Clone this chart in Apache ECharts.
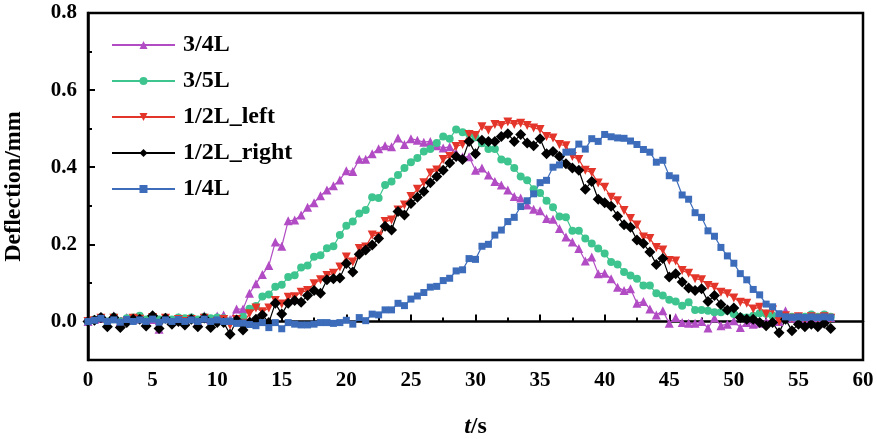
<!DOCTYPE html>
<html>
<head>
<meta charset="utf-8">
<script src="https://cdn.jsdelivr.net/npm/echarts@6/dist/echarts.min.js"></script>
<style>
  html, body { margin: 0; padding: 0; background: #fff; }
  #chart { width: 877px; height: 439px; }
</style>
</head>
<body>
<div id="chart"></div>
<script>
// time axis, s (one row per 6 s)
const times = [
  0, 0.5, 1, 1.5, 2, 2.5, 3, 3.5, 4, 4.5, 5, 5.5,
  6, 6.5, 7, 7.5, 8, 8.5, 9, 9.5, 10, 10.5, 11, 11.5,
  12, 12.5, 13, 13.5, 14, 14.5, 15, 15.5, 16, 16.5, 17, 17.5,
  18, 18.5, 19, 19.5, 20, 20.5, 21, 21.5, 22, 22.5, 23, 23.5,
  24, 24.5, 25, 25.5, 26, 26.5, 27, 27.5, 28, 28.5, 29, 29.5,
  30, 30.5, 31, 31.5, 32, 32.5, 33, 33.5, 34, 34.5, 35, 35.5,
  36, 36.5, 37, 37.5, 38, 38.5, 39, 39.5, 40, 40.5, 41, 41.5,
  42, 42.5, 43, 43.5, 44, 44.5, 45, 45.5, 46, 46.5, 47, 47.5,
  48, 48.5, 49, 49.5, 50, 50.5, 51, 51.5, 52, 52.5, 53, 53.5,
  54, 54.5, 55, 55.5, 56, 56.5, 57, 57.5
];

const l34 = [
  0, 0.005, 0.008, -0.005, 0.015, 0.0, 0.01, 0.005, 0.01, 0.0, 0.005, -0.02,
  0.01, 0.0, 0.01, 0.005, 0.01, 0.0, 0.015, 0.005, 0.014, 0.017, 0.005, 0.032,
  0.032, 0.073, 0.098, 0.122, 0.145, 0.206, 0.195, 0.261, 0.263, 0.276, 0.296, 0.308,
  0.326, 0.341, 0.352, 0.367, 0.391, 0.389, 0.421, 0.421, 0.435, 0.448, 0.456, 0.453,
  0.476, 0.459, 0.474, 0.47, 0.465, 0.467, 0.456, 0.45, 0.453, 0.437, 0.427, 0.427,
  0.392, 0.398, 0.38, 0.363, 0.354, 0.341, 0.324, 0.32, 0.302, 0.291, 0.287, 0.267,
  0.265, 0.241, 0.219, 0.206, 0.189, 0.157, 0.167, 0.124, 0.125, 0.111, 0.089, 0.08,
  0.085, 0.047, 0.052, 0.032, 0.017, 0.028, -0.005, 0.01, -0.003, -0.005, -0.005, 0,
  -0.017, 0.009, -0.011, -0.007, 0.002, -0.016, -0.003, -0.007, -0.005, 0, 0.005, 0.0,
  0.028, 0.008, 0.012, 0.005, 0.012, 0.01, 0.012, 0.01
];

const l35 = [
  0, 0.005, 0.01, 0.0, 0.012, 0.0, 0.008, 0.01, 0.015, 0.005, 0.008, 0.005,
  0.01, 0.005, 0.01, 0.008, 0.01, 0.005, 0.012, 0.008, 0.01, 0.008, 0.0, 0.005,
  0.012, 0.033, 0.04, 0.065, 0.07, 0.09, 0.095, 0.115, 0.12, 0.14, 0.145, 0.168,
  0.172, 0.19, 0.195, 0.224, 0.248, 0.259, 0.28, 0.289, 0.322, 0.32, 0.354, 0.363,
  0.38, 0.398, 0.413, 0.424, 0.441, 0.447, 0.463, 0.48, 0.474, 0.498, 0.491, 0.487,
  0.478, 0.462, 0.447, 0.447, 0.42, 0.415, 0.398, 0.376, 0.366, 0.343, 0.333, 0.313,
  0.296, 0.272, 0.27, 0.235, 0.235, 0.215, 0.202, 0.189, 0.176, 0.154, 0.148, 0.128,
  0.119, 0.111, 0.093, 0.093, 0.073, 0.067, 0.056, 0.052, 0.041, 0.05, 0.03, 0.03,
  0.028, 0.024, 0.024, 0.028, 0.019, 0.012, 0.01, 0.015, 0.021, 0.02, 0.015, 0.012,
  0.01, 0.012, 0.01, 0.012, 0.018, 0.012, 0.018, 0.012
];

const l12Left = [
  0, 0.002, 0.008, -0.008, 0.008, -0.01, 0.0, 0.008, 0.006, -0.005, 0.01, -0.01,
  0.008, -0.008, 0.005, 0.0, 0.005, -0.005, 0.008, -0.005, 0.0, 0.005, -0.01, 0.005,
  -0.005, 0.02, 0.035, 0.025, 0.035, 0.054, 0.045, 0.063, 0.064, 0.076, 0.08, 0.098,
  0.108, 0.119, 0.125, 0.141, 0.167, 0.154, 0.189, 0.193, 0.224, 0.221, 0.259, 0.263,
  0.289, 0.302, 0.324, 0.343, 0.36, 0.385, 0.393, 0.42, 0.428, 0.454, 0.459, 0.485,
  0.482, 0.505, 0.496, 0.511, 0.508, 0.517, 0.511, 0.514, 0.508, 0.502, 0.498, 0.48,
  0.476, 0.459, 0.456, 0.428, 0.42, 0.392, 0.386, 0.359, 0.348, 0.322, 0.313, 0.288,
  0.267, 0.25, 0.219, 0.215, 0.192, 0.185, 0.158, 0.157, 0.132, 0.125, 0.111, 0.108,
  0.093, 0.089, 0.076, 0.072, 0.061, 0.05, 0.047, 0.032, 0.037, 0.019, 0.03, 0.0,
  0.015, 0.008, 0.012, 0.005, 0.012, 0.008, 0.012, 0.008
];

const l12Right = [
  0, 0.003, 0.01, -0.014, 0.01, -0.016, -0.003, 0.006, 0.006, -0.012, 0.015, -0.018,
  0.008, -0.007, 0.0, -0.009, 0.006, -0.014, 0.009, -0.016, -0.003, -0.003, -0.033, 0.004,
  -0.022, -0.003, 0.006, 0.017, -0.003, 0.047, 0.019, 0.047, 0.054, 0.05, 0.067, 0.08,
  0.073, 0.108, 0.111, 0.113, 0.15, 0.128, 0.174, 0.185, 0.198, 0.215, 0.247, 0.237,
  0.285, 0.276, 0.306, 0.322, 0.337, 0.36, 0.376, 0.392, 0.411, 0.428, 0.42, 0.467,
  0.435, 0.47, 0.467, 0.467, 0.48, 0.487, 0.467, 0.485, 0.463, 0.456, 0.474, 0.435,
  0.441, 0.428, 0.409, 0.398, 0.392, 0.343, 0.363, 0.317, 0.308, 0.299, 0.273, 0.251,
  0.244, 0.211, 0.202, 0.18, 0.148, 0.163, 0.115, 0.124, 0.102, 0.087, 0.08, 0.085,
  0.052, 0.067, 0.044, 0.03, 0.035, 0.01, 0.006, 0.006, -0.003, -0.011, -0.003, -0.029,
  0.006, -0.024, -0.007, -0.014, -0.007, -0.014, -0.005, -0.018
];

const l14 = [
  0, 0.003, 0.008, 0, 0.004, -0.002, 0.005, 0, 0.004, 0, 0.006, -0.002,
  0.004, 0, 0.005, 0, 0.004, 0, 0.006, 0, 0.004, 0, 0, -0.005,
  -0.004, -0.008, -0.011, -0.003, -0.016, -0.003, -0.019, -0.003, -0.007, -0.009, -0.009, -0.007,
  -0.003, -0.003, -0.005, -0.003, 0.003, -0.007, 0.01, 0.002, 0.019, 0.017, 0.03, 0.03,
  0.047, 0.041, 0.058, 0.066, 0.075, 0.089, 0.091, 0.106, 0.112, 0.131, 0.134, 0.163,
  0.161, 0.195, 0.2, 0.224, 0.237, 0.259, 0.27, 0.298, 0.313, 0.331, 0.36, 0.366,
  0.40, 0.406, 0.439, 0.44, 0.46, 0.447, 0.474, 0.467, 0.485, 0.479, 0.476, 0.475,
  0.468, 0.459, 0.446, 0.439, 0.413, 0.418, 0.378, 0.372, 0.328, 0.317, 0.282, 0.27,
  0.235, 0.221, 0.192, 0.17, 0.151, 0.124, 0.108, 0.083, 0.069, 0.045, 0.038, 0.02,
  0.012, 0.01, 0.012, 0.01, 0.012, 0.01, 0.012, 0.01
];

const xTicks = [0, 5, 10, 15, 20, 25, 30, 35, 40, 45, 50, 55, 60];
const yTicks = [0, 0.2, 0.4, 0.6, 0.8];
const yMinorTicks = [0.1, 0.3, 0.5, 0.7];

const font = 'Liberation Serif, Times New Roman, serif';
const pair = (ys) => times.map((t, i) => [t, ys[i]]);

const lineSeries = [
  { name: '3/4L', data: l34, color: '#B24CC4', symbol: 'triangle', size: 9 },
  { name: '3/5L', data: l35, color: '#3EC48E', symbol: 'circle', size: 8 },
  { name: '1/2L_left', data: l12Left, color: '#E4352A', symbol: 'triangle', size: 9, rotate: 180 },
  { name: '1/2L_right', data: l12Right, color: '#000000', symbol: 'diamond', size: 11 },
  { name: '1/4L', data: l14, color: '#3C6CBA', symbol: 'rect', size: 7 },
];

const chart = echarts.init(document.getElementById('chart'), null, { renderer: 'canvas' });

const option = {
  animation: false,
  textStyle: { fontFamily: font, color: '#000' },
  grid: {
    left: 88, right: 14, top: 13, bottom: 79,
    outerBoundsMode: 'none',
    containLabel: false,
    show: true, borderColor: '#000', borderWidth: 2.5,
  },
  legend: {
    orient: 'vertical',
    left: 106,
    top: 28,
    itemWidth: 63,
    itemHeight: 10,
    itemGap: 12,
    textStyle: { fontFamily: font, fontWeight: 'bold', fontSize: 24, color: '#000', padding: [0, 0, 0, 3] },
    data: lineSeries.map((s) => s.name),
  },
  xAxis: {
    type: 'value',
    min: 0, max: 60, interval: 5,
    name: '{i|t}/s',
    nameLocation: 'middle',
    nameGap: 55,
    nameTextStyle: {
      fontFamily: font, fontWeight: 'bold', fontSize: 24, color: '#000',
      rich: { i: { fontFamily: font, fontWeight: 'bold', fontStyle: 'italic', fontSize: 24 } },
    },
    axisLine: { lineStyle: { color: '#000', width: 2.5 } },
    axisTick: { inside: true, length: 7, lineStyle: { color: '#000', width: 2 } },
    minorTick: { show: true, splitNumber: 2, length: 4, lineStyle: { color: '#000', width: 2 } },
    axisLabel: {
      customValues: xTicks,
      margin: 10, fontFamily: font, fontWeight: 'bold', fontSize: 21, color: '#000',
    },
    splitLine: { show: false },
  },
  yAxis: [
    {
      type: 'value',
      min: -0.1, max: 0.8,
      name: 'Deflection/mm',
      nameLocation: 'middle',
      nameGap: 62,
      nameTextStyle: { fontFamily: font, fontWeight: 'bold', fontSize: 24, color: '#000' },
      axisLine: { show: true, lineStyle: { color: '#000', width: 2.5 } },
      axisTick: { show: true, inside: true, length: 7, customValues: yTicks, lineStyle: { color: '#000', width: 2 } },
      axisLabel: {
        customValues: yTicks,
        formatter: (v) => v.toFixed(1),
        margin: 11, fontFamily: font, fontWeight: 'bold', fontSize: 21, color: '#000',
      },
      splitLine: { show: false },
    },
    {
      type: 'value',
      min: -0.1, max: 0.8,
      position: 'left',
      axisLine: { show: false },
      axisTick: { show: true, inside: true, length: 4, customValues: yMinorTicks, lineStyle: { color: '#000', width: 2 } },
      axisLabel: { show: false },
      splitLine: { show: false },
    },
  ],
  series: lineSeries.map((s) => ({
    name: s.name,
    type: 'line',
    data: pair(s.data),
    symbol: s.symbol,
    symbolSize: s.size,
    symbolRotate: s.rotate || 0,
    showAllSymbol: true,
    color: s.color,
    lineStyle: { width: 1.2, color: s.color },
    itemStyle: { color: s.color },
  })),
};

chart.setOption(option);
</script>
</body>
</html>
